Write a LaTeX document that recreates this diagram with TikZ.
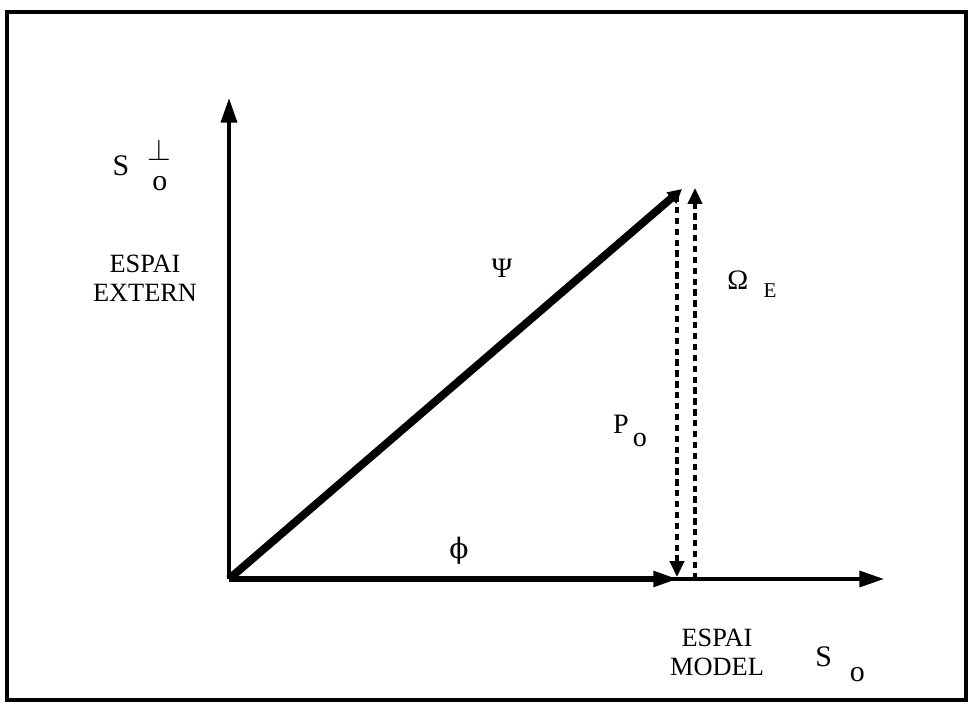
\documentclass[tikz,border=0pt]{standalone}
\usepackage{fontspec}
\setmainfont{Liberation Serif}
\newfontfamily\greekfont{DejaVu Serif}
\usetikzlibrary{arrows.meta}

\begin{document}
\begin{tikzpicture}[x=0.02cm,y=-0.02cm]
        % Define line properties
        \def\axiswidth{2.2pt}   % Axis lines
        \def\vecwidth{4.5pt}    % Psi vector
        \def\phiwidth{3pt}      % Phi vector
        \def\projwidth{2pt}     % Dashed projections

        \tikzset{
            lbl/.style={inner sep=0pt, font=\fontsize{16}{18}\selectfont},
            spacelbl/.style={inner sep=0pt, align=center, font=\fontsize{15}{16.5}\selectfont},
            axis/.style={line width=\axiswidth, -{Triangle[length=14pt,width=9pt]}},
            vec/.style={line width=\vecwidth, -{Triangle[length=8pt,width=8pt]}},
            proj/.style={line width=\projwidth, dash pattern=on 3.6pt off 2.6pt, -{Triangle[length=9pt,width=8pt]}}
        }

        % Fix the page size and draw the frame
        \useasboundingbox (0,0) rectangle (973,712);
        \draw[line width=2.3pt] (7,12) rectangle (966,700);

        % Points of the diagram
        \coordinate (origin) at (229,579);
        \coordinate (ytip) at (229,98);
        \coordinate (xtip) at (884,579);
        \coordinate (psiend) at (682,189);
        \coordinate (phiend) at (678,579);
        \coordinate (downtop) at (677,196);
        \coordinate (downend) at (677,577);
        \coordinate (upfoot) at (695,579);
        \coordinate (uptop) at (695,188);

        % Axes
        \draw[axis] (origin) -- (ytip);
        \draw[axis] (origin) -- (xtip);

        % Vectors
        \draw[vec] (origin) -- (psiend);
        \draw[line width=\phiwidth, -{Triangle[length=14pt,width=8.5pt]}] (origin) -- (phiend);
        \draw[proj] (downtop) -- (downend);
        \draw[proj] (upfoot) -- (uptop);

        % Labels
        \node[lbl, font=\fontsize{17}{19}\selectfont] (sperp) at (140,165) {S\hspace{0.6em}\raisebox{1.1ex}{$\perp$}\hspace{-0.62em}\raisebox{-1.1ex}{o}};
        \node[spacelbl] (extern) at (145,278) {ESPAI\\EXTERN};
        \node[lbl] (psi) at (502,268) {Ψ};
        \node[lbl] (omega) at (752,284) {Ω\hspace{0.55em}\raisebox{-0.6ex}{\fontsize{12}{14}\selectfont E}};
        \node[lbl] (po) at (630,431) {P\hspace{0.15em}\raisebox{-1ex}{o}};
        \node[lbl] (phi) at (459,551) {\greekfont ϕ};
        \node[spacelbl] (model) at (717,652) {ESPAI\\MODEL};
        \node[lbl, font=\fontsize{17}{19}\selectfont] (so) at (840,664) {S\hspace{0.6em}\raisebox{-1.1ex}{o}};
    \end{tikzpicture}
\end{document}
